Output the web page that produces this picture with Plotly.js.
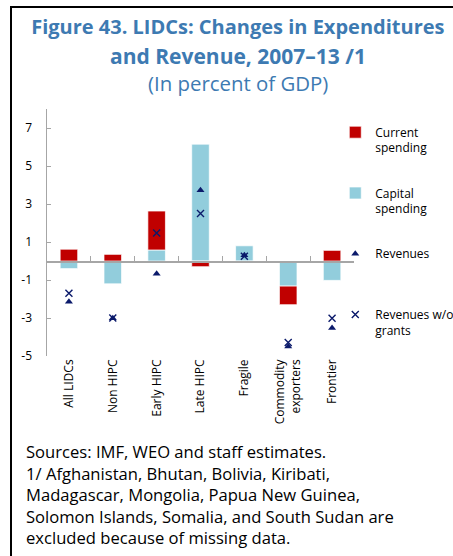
<!DOCTYPE html>
<html>
<head>
<meta charset="utf-8">
<script src="https://cdn.plot.ly/plotly-3.0.1.min.js"></script>
<style>
  html, body { margin: 0; padding: 0; background: #fff; }
  #wrap { position: relative; width: 453px; height: 556px; overflow: hidden; }
  #chart { position: absolute; left: 0; top: 0; width: 453px; height: 556px; }
  #frame { position: absolute; left: 10px; top: 6px; width: 460px; height: 560px;
           border-left: 2px solid #000; border-top: 2px solid #000; pointer-events: none; }
</style>
</head>
<body>
<div id="wrap">
  <div id="chart"></div>
  <div id="frame"></div>
</div>
<script>
// ---- data ----
const categories = ["All LIDCs", "Non HIPC", "Early HIPC", "Late HIPC", "Fragile", "Commodity<br>exporters", "Frontier"];
const currentSpending = [0.62, 0.35, 2.05, -0.30, -0.07, -0.98, 0.56];
const capitalSpending = [-0.40, -1.20, 0.58, 6.15, 0.80, -1.32, -1.02];
const revenues = [-2.14, -3.01, -0.67, 3.73, 0.30, -4.50, -3.52];
const revenuesWoGrants = [-1.70, -3.00, 1.47, 2.50, 0.25, -4.29, -3.01];
const yTickVals = [-5, -3, -1, 1, 3, 5, 7];
const yTickText = ["-5", "-3", "-1", "1", "3", "5", "7"];

const FONT = "Open Sans, Noto Sans, sans-serif";
const navy = "#0b1a6b";
const titleBlue = "#3d7ab2";

const traces = [
  { type: "bar", name: "Capital<br>spending", x: categories, y: capitalSpending,
    marker: { color: "#92CDDC", line: { color: "rgba(255,255,255,0.7)", width: 1 } },
    legendrank: 2, legendgroup: "b" },
  { type: "bar", name: "Current<br>spending", x: categories, y: currentSpending,
    marker: { color: "#C00000", line: { color: "rgba(255,255,255,0.7)", width: 1 } },
    legendrank: 1, legendgroup: "a" },
  { type: "scatter", mode: "markers", name: "Revenues<br> ", x: categories, y: revenues,
    xaxis: "x2", yaxis: "y",
    marker: { symbol: "triangle-up", size: 7, color: navy },
    legendrank: 3, legendgroup: "c" },
  { type: "scatter", mode: "markers", name: "Revenues w/o<br>grants", x: categories, y: revenuesWoGrants,
    xaxis: "x2", yaxis: "y",
    marker: { symbol: "x-thin-open", size: 7, color: navy, line: { color: navy, width: 1.4 } },
    legendrank: 4, legendgroup: "d" }
];

const layout = {
  width: 453, height: 556,
  margin: { l: 47, r: 99, t: 109, b: 200, autoexpand: false },
  paper_bgcolor: "#fff", plot_bgcolor: "rgba(0,0,0,0)",
  font: { family: FONT, color: "#000", size: 12 },
  barmode: "relative",
  bargap: 0.6,
  title: {
    text: "<b>Figure 43. LIDCs: Changes in Expenditures</b>",
    font: { family: FONT, size: 20, color: titleBlue },
    x: 0.525, xanchor: "center", xref: "container",
    y: 0.951, yanchor: "middle", yref: "container"
  },
  xaxis: {
    type: "category", categoryorder: "array", categoryarray: categories,
    range: [-0.5, 6.5], showline: false, ticks: "", showgrid: false, zeroline: false,
    tickangle: -90, tickfont: { family: FONT, size: 12, color: "#000" },
    fixedrange: true
  },
  xaxis2: {
    type: "category", categoryorder: "array", categoryarray: categories,
    range: [-0.5, 6.5], overlaying: "x", anchor: "free", position: 5 / 13,
    showline: true, linecolor: "#a6a6a6", linewidth: 1.5,
    ticks: "inside", tickson: "boundaries", ticklen: 5, tickcolor: "#a6a6a6", tickwidth: 1,
    showticklabels: false, showgrid: false, zeroline: false
  },
  yaxis: {
    range: [-5, 8], tickvals: yTickVals, ticktext: yTickText,
    showline: true, linecolor: "#a6a6a6", linewidth: 1.5,
    ticks: "inside", ticklen: 4, tickcolor: "#a6a6a6",
    showgrid: false, zeroline: false,
    tickfont: { family: FONT, size: 12, color: "#000" },
    ticklabelstandoff: 11
  },
  showlegend: true,
  legend: {
    x: 0.939, xanchor: "left", y: 0.964, yanchor: "top",
    traceorder: "grouped", tracegroupgap: 26.6, valign: "top",
    font: { family: FONT, size: 12, color: "#000" },
    bgcolor: "rgba(0,0,0,0)", itemwidth: 30
  },
  annotations: [
    { xref: "paper", yref: "paper", x: 191 / 307, y: 1.2145, xanchor: "center", yanchor: "middle",
      showarrow: false, font: { family: FONT, size: 21, color: titleBlue },
      text: "<b>and Revenue, 2007–13 /1</b>" },
    { xref: "paper", yref: "paper", x: 191 / 307, y: 1.105, xanchor: "center", yanchor: "middle",
      showarrow: false, font: { family: FONT, size: 20.4, color: titleBlue },
      text: "(In percent of GDP)" },
    { xref: "paper", yref: "paper", x: -0.075, y: -0.33, xanchor: "left", yanchor: "top",
      align: "left", showarrow: false,
      font: { family: FONT, size: 16.6, color: "#000" },
      text: "Sources: IMF, WEO and staff estimates.<br>1/ Afghanistan, Bhutan, Bolivia, Kiribati,<br>Madagascar, Mongolia, Papua New Guinea,<br>Solomon Islands, Somalia, and South Sudan are<br>excluded because of missing data." }
  ]
};

Plotly.newPlot("chart", traces, layout, { displayModeBar: false, staticPlot: true });
</script>
</body>
</html>
